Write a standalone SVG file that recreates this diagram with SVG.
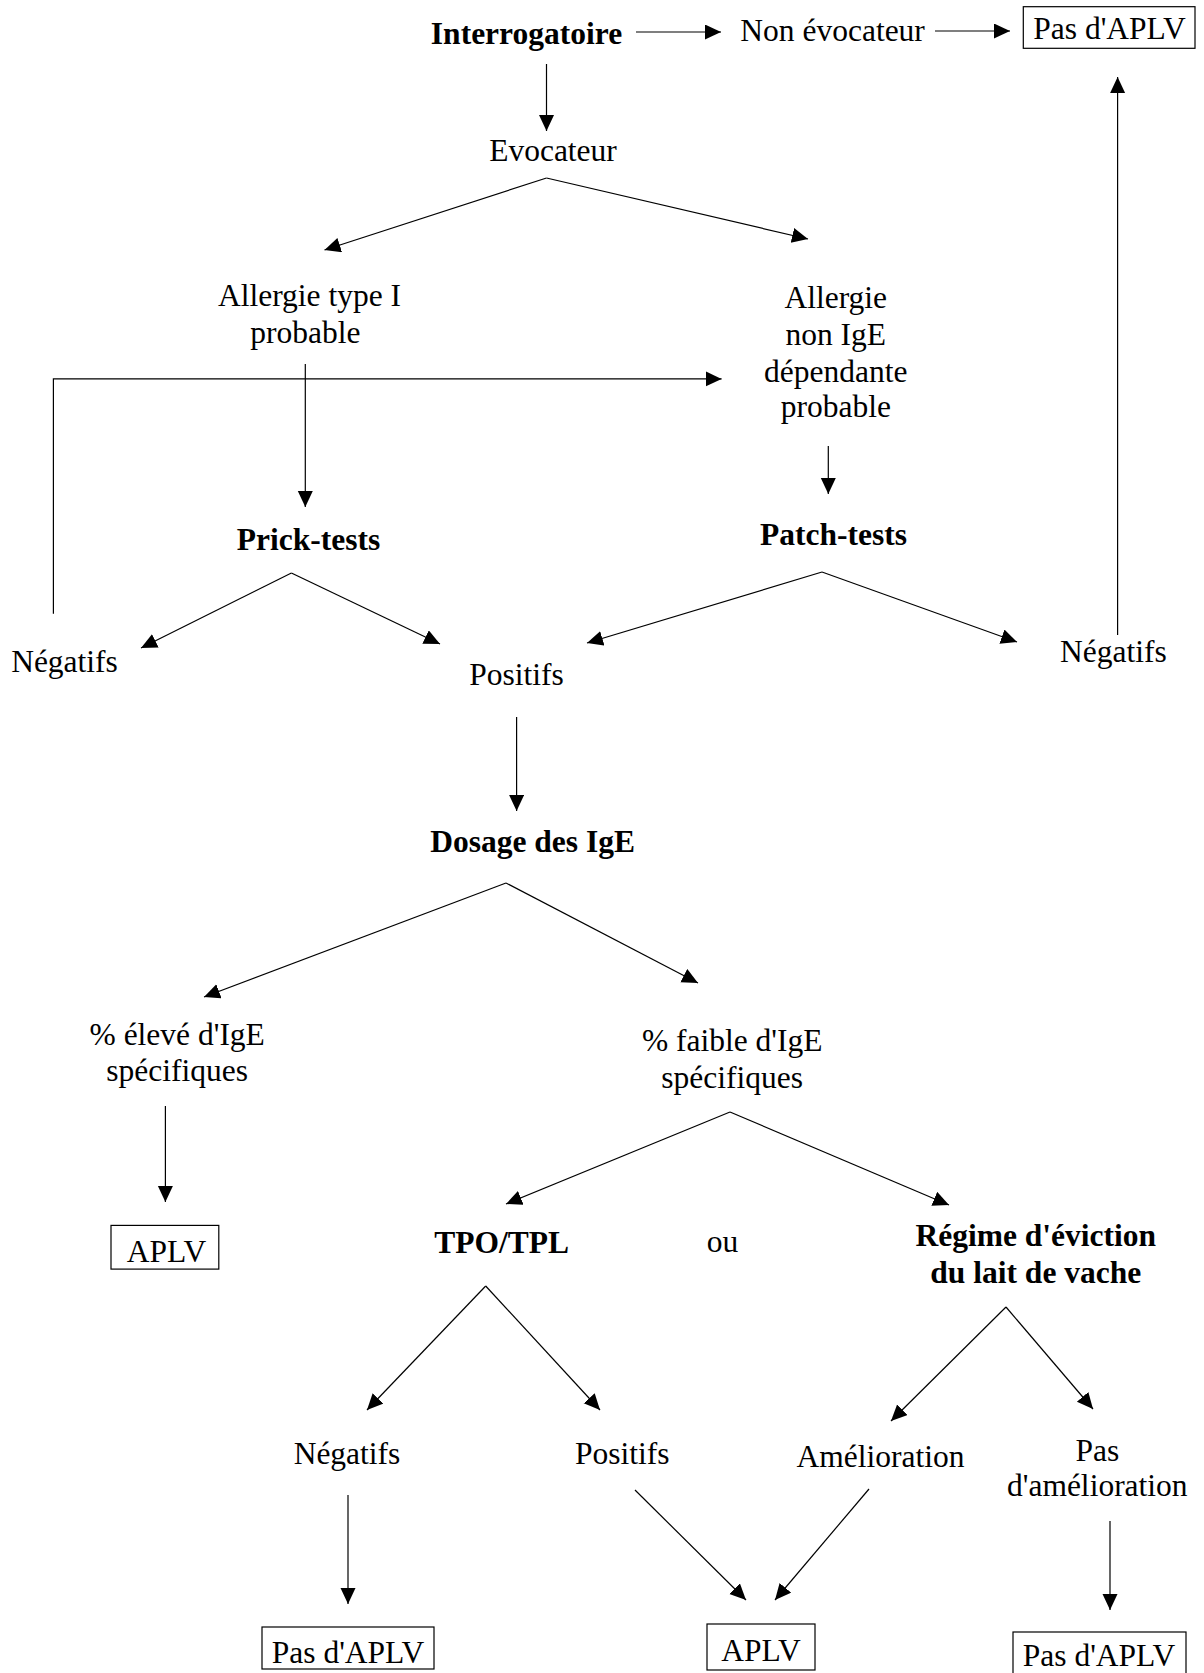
<svg xmlns="http://www.w3.org/2000/svg" width="1204" height="1673" viewBox="0 0 1204 1673">
<style>
text{font-family:"Liberation Serif","Times New Roman",serif;font-size:31.5px;fill:#000;text-anchor:middle}
.b{font-weight:bold}
.box{fill:none;stroke:#000;stroke-width:1.2}
.c line,.c polyline{stroke:#000;stroke-width:1.2;fill:none;marker-end:url(#ah)}
</style>
<defs>
<marker id="ah" markerUnits="userSpaceOnUse" markerWidth="20" markerHeight="18" refX="16" refY="7.5" orient="auto">
<path d="M0,0 L16,7.5 L0,15 z" fill="#000"/>
</marker>
</defs>
<rect width="1204" height="1673" fill="#fff"/>
<g class="c" id="connectors">
<line x1="636" y1="32" x2="721" y2="32"/>
<line x1="935" y1="31" x2="1010" y2="31"/>
<line x1="546.5" y1="64" x2="546.5" y2="131"/>
<line x1="546.5" y1="178" x2="324.5" y2="250"/>
<line x1="546.5" y1="178" x2="808" y2="239"/>
<line x1="305.3" y1="364" x2="305.3" y2="507"/>
<polyline points="53.4,613.8 53.4,378.9 721.6,378.9"/>
<line x1="828.3" y1="446" x2="828.3" y2="494"/>
<line x1="291.4" y1="573" x2="141" y2="648"/>
<line x1="291.4" y1="573" x2="440" y2="644"/>
<line x1="822" y1="572" x2="587" y2="643"/>
<line x1="822" y1="572" x2="1017" y2="642"/>
<line x1="1117.6" y1="635" x2="1117.6" y2="77"/>
<line x1="516.6" y1="717" x2="516.6" y2="811"/>
<line x1="506" y1="883" x2="204" y2="997"/>
<line x1="506" y1="883" x2="698" y2="983"/>
<line x1="165.4" y1="1106" x2="165.4" y2="1202"/>
<line x1="730" y1="1112" x2="506" y2="1204"/>
<line x1="730" y1="1112" x2="949" y2="1205"/>
<line x1="485.7" y1="1286" x2="367" y2="1410"/>
<line x1="485.7" y1="1286" x2="600" y2="1410"/>
<line x1="1006" y1="1307" x2="891" y2="1421"/>
<line x1="1006" y1="1307" x2="1093" y2="1409"/>
<line x1="348" y1="1495" x2="348" y2="1604"/>
<line x1="635" y1="1490" x2="746" y2="1600"/>
<line x1="869" y1="1489" x2="775" y2="1600"/>
<line x1="1110" y1="1521" x2="1110" y2="1610"/>
</g>
<g id="interrogatoire"><text class="b" x="526.5" y="43.5">Interrogatoire</text></g>
<g id="non-evocateur"><text x="832.6" y="40.5">Non évocateur</text></g>
<g id="pas-aplv-1"><rect class="box" x="1023.3" y="6.7" width="171.7" height="41.6"/><text x="1109.5" y="39.3">Pas d'APLV</text></g>
<g id="evocateur"><text x="553" y="161">Evocateur</text></g>
<g id="allergie-type1"><text x="309.5" y="306.3">Allergie type I</text><text x="305.3" y="342.6">probable</text></g>
<g id="allergie-non-ige"><text x="835.8" y="308.3">Allergie</text><text x="835.8" y="345">non IgE</text><text x="835.8" y="381.7">dépendante</text><text x="835.8" y="416.7">probable</text></g>
<g id="prick-tests"><text class="b" x="308.5" y="549.7">Prick-tests</text></g>
<g id="patch-tests"><text class="b" x="833.6" y="545.4">Patch-tests</text></g>
<g id="negatifs-1"><text x="64.5" y="671.7">Négatifs</text></g>
<g id="positifs-1"><text x="516.6" y="685.3">Positifs</text></g>
<g id="negatifs-2"><text x="1113.3" y="661.8">Négatifs</text></g>
<g id="dosage"><text class="b" x="532.6" y="851.8">Dosage des IgE</text></g>
<g id="eleve"><text x="177.2" y="1045">% élevé d'IgE</text><text x="177.2" y="1081.3">spécifiques</text></g>
<g id="faible"><text x="732.2" y="1051.4">% faible d'IgE</text><text x="732.2" y="1087.7">spécifiques</text></g>
<g id="aplv-1"><rect class="box" x="111" y="1225.4" width="107.8" height="43.7"/><text x="166.5" y="1261.5">APLV</text></g>
<g id="tpo"><text class="b" x="501.7" y="1253">TPO/TPL</text></g>
<g id="ou"><text x="722.6" y="1252">ou</text></g>
<g id="regime"><text class="b" x="1035.8" y="1246">Régime d'éviction</text><text class="b" x="1035.8" y="1283.3">du lait de vache</text></g>
<g id="negatifs-3"><text x="347" y="1464">Négatifs</text></g>
<g id="positifs-2"><text x="622.3" y="1464">Positifs</text></g>
<g id="amelioration"><text x="880.6" y="1467">Amélioration</text></g>
<g id="pas-amelioration"><text x="1097.3" y="1461">Pas</text><text x="1097.3" y="1496">d'amélioration</text></g>
<g id="pas-aplv-2"><rect class="box" x="262" y="1627" width="172" height="42"/><text x="348" y="1663">Pas d'APLV</text></g>
<g id="aplv-2"><rect class="box" x="707" y="1624" width="108" height="46"/><text x="761" y="1661">APLV</text></g>
<g id="pas-aplv-3"><rect class="box" x="1013" y="1632" width="173" height="44"/><text x="1099" y="1666">Pas d'APLV</text></g>
</svg>
